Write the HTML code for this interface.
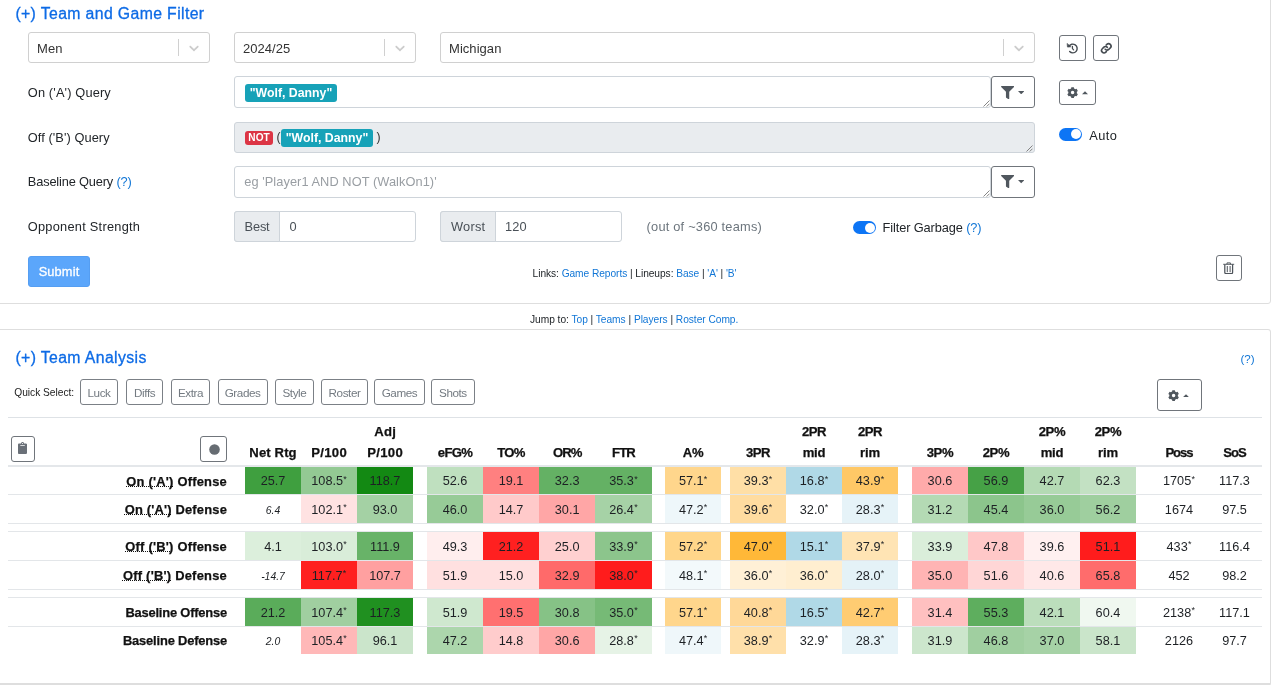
<!DOCTYPE html>
<html lang="en"><head><meta charset="utf-8"><title>Team Analysis</title>
<style>
*{box-sizing:border-box;margin:0;padding:0}
html,body{width:1272px;height:685px;overflow:hidden;background:#fff}
body{position:relative;font-family:"Liberation Sans",Arial,sans-serif;color:#212529;font-size:12.2px}
.abs{position:absolute}
.card{position:absolute;border:1px solid #dedede;border-radius:3px;background:#fff}
.t{position:absolute;white-space:nowrap;line-height:16px}
.h{position:absolute;white-space:nowrap;color:#0d6be6;font-size:15.8px;line-height:20px;-webkit-text-stroke:0.3px #0d6be6}
.sel{position:absolute;border:1px solid #d0d0d0;border-radius:3px;background:#fff;height:31px}
.sel .v{position:absolute;left:8px;top:7.6px;line-height:16px;color:#333;font-size:13px;letter-spacing:0.05px}
.sel .sep{position:absolute;top:6px;bottom:6px;width:1px;background:#d0d0d0;right:30px}
.sel svg{position:absolute;right:6.5px;top:7px}
.inp{position:absolute;border:1px solid #ced4da;border-radius:3px;background:#fff}
.btn{position:absolute;border:1px solid #70757b;border-radius:3px;background:#fff}
.btn svg{position:absolute}
.badge{position:absolute;border-radius:3px;color:#fff;font-weight:bold;white-space:nowrap;text-align:center}
.tog{position:absolute;width:23px;height:13px;border-radius:7px;background:#0d75f5}
.tog i{position:absolute;right:1.5px;top:1.5px;width:10px;height:10px;border-radius:5px;background:#fff}
a,.lk{color:#1176d6;text-decoration:none}
.qb{position:absolute;top:379px;height:26px;border:1px solid #7b8086;border-radius:3px;color:#737a81;font-size:11.7px;letter-spacing:-0.42px;line-height:24px;padding-top:0.6px;text-align:center;white-space:nowrap}
table{position:absolute;left:8px;top:417px;border-collapse:collapse;table-layout:fixed;width:1254px}
td,th{padding:0;text-align:center;vertical-align:middle;font-size:12.7px;overflow:visible;white-space:nowrap;color:#1d2024}
thead th{height:48.5px;border-top:1px solid #dee2e6;border-bottom:2px solid #e4e7ea;vertical-align:bottom;font-weight:bold;line-height:20.5px;padding-bottom:1.7px;color:#111;font-size:13.1px;letter-spacing:0.27px;-webkit-text-stroke:0.25px #111}
tbody tr.r td{height:28.8px;border-top:1px solid #e3e6e9;background-clip:padding-box;padding-top:1.6px}
tbody tr.l td{height:27.8px;padding-top:0.8px}
tbody tr.s td{height:8.2px;border-top:1px solid #e3e6e9}
tbody tr.r td.n{padding-top:1px}
tbody tr.l td.n{padding-top:0.2px}
td.n{text-align:right;font-weight:bold;padding-right:18px;color:#111;font-size:12.9px;-webkit-text-stroke:0.25px #111}
td.n u{text-decoration:underline dotted;text-underline-offset:0.4px;text-decoration-thickness:1px;text-decoration-skip-ink:none}
td i{font-size:10.4px}
sup{font-size:9px;line-height:1px;vertical-align:baseline;position:relative;top:-3.6px;margin-left:0.2px}
</style></head>
<body>
<div class="card" style="left:-5px;top:-10px;width:1275.5px;height:313.5px"></div>
<div class="card" style="left:-5px;top:329px;width:1275.5px;height:357px;border-bottom-width:3px"></div>
<div class="h" style="left:15.4px;top:3.8px;letter-spacing:0.373px">(+) Team and Game Filter</div>
<div class="sel" style="left:28px;top:32px;width:181.5px"><span class="v">Men</span><span class="sep"></span><svg width="16" height="16" viewBox="0 0 20 20"><path d="M4.516 7.548c0.436-0.446 1.043-0.481 1.576 0l3.908 3.747 3.908-3.747c0.533-0.481 1.141-0.446 1.574 0 0.436 0.445 0.408 1.197 0 1.615-0.406 0.418-4.695 4.502-4.695 4.502-0.217 0.223-0.502 0.335-0.787 0.335s-0.57-0.112-0.789-0.335c0 0-4.287-4.084-4.695-4.502s-0.436-1.17 0-1.615z" fill="#ccc"/></svg></div>
<div class="sel" style="left:234px;top:32px;width:181.5px"><span class="v">2024/25</span><span class="sep"></span><svg width="16" height="16" viewBox="0 0 20 20"><path d="M4.516 7.548c0.436-0.446 1.043-0.481 1.576 0l3.908 3.747 3.908-3.747c0.533-0.481 1.141-0.446 1.574 0 0.436 0.445 0.408 1.197 0 1.615-0.406 0.418-4.695 4.502-4.695 4.502-0.217 0.223-0.502 0.335-0.787 0.335s-0.57-0.112-0.789-0.335c0 0-4.287-4.084-4.695-4.502s-0.436-1.17 0-1.615z" fill="#ccc"/></svg></div>
<div class="sel" style="left:440px;top:32px;width:594.5px"><span class="v">Michigan</span><span class="sep"></span><svg width="16" height="16" viewBox="0 0 20 20"><path d="M4.516 7.548c0.436-0.446 1.043-0.481 1.576 0l3.908 3.747 3.908-3.747c0.533-0.481 1.141-0.446 1.574 0 0.436 0.445 0.408 1.197 0 1.615-0.406 0.418-4.695 4.502-4.695 4.502-0.217 0.223-0.502 0.335-0.787 0.335s-0.57-0.112-0.789-0.335c0 0-4.287-4.084-4.695-4.502s-0.436-1.17 0-1.615z" fill="#ccc"/></svg></div>
<div class="btn" style="left:1059px;top:35px;width:27px;height:26px"><svg style="left:6.2px;top:6.2px" width="12.5" height="12.5" viewBox="0 0 24 24" fill="none" stroke="#454b51" stroke-width="2.7" stroke-linecap="round" stroke-linejoin="round"><path d="M5.6 8.6A8.4 8.4 0 1 1 7.0 18.4"/><path d="M2.2 3.4L2.8 9.8L9.2 9.2Z" fill="#454b51" stroke-width="1.2"/><path d="M12.4 8.4v4.4l2.2 2.2" stroke-width="2.3"/></svg></div>
<div class="btn" style="left:1093px;top:35px;width:26px;height:26px"><svg style="left:6.2px;top:6.3px" width="12.6" height="12.6" viewBox="0 0 24 24" fill="none" stroke="#454b51" stroke-width="3.1" stroke-linecap="round" stroke-linejoin="round"><path d="M10 13.8a4.6 4.6 0 0 0 6.6.4l3-3a4.6 4.6 0 0 0-6.6-6.6l-1.2 1.2"/><path d="M14 10.2a4.6 4.6 0 0 0-6.600-.4l-3 3a4.6 4.6 0 0 0 6.600 6.600l1.200-1.200"/></svg></div>
<div class="t" style="left:27.8px;top:84.8px;font-size:12.8px;letter-spacing:0.15px;">On ('A') Query</div>
<div class="inp" style="left:234px;top:76px;width:757px;height:32.4px"></div>
<div class="badge" style="left:245px;top:84px;width:92px;height:18px;line-height:18px;font-size:12.3px;background:#17a2b8">"Wolf, Danny"</div>
<svg class="abs" style="left:982.5px;top:100px" width="7" height="7" viewBox="0 0 7 7" stroke="#777" stroke-width="0.9" fill="none"><path d="M0.5 6.5L6.5 0.5M3.7 6.500L6.500 3.700"/></svg>
<div class="btn" style="left:990.5px;top:76px;width:44px;height:32.4px"><svg style="left:9.5px;top:8.6px" width="13.2" height="13.2" viewBox="0 0 512 512"><path fill="#50575e" d="M487.976 0H24.028C2.71 0-8.047 25.866 7.058 40.971L192 225.941V432c0 7.831 3.821 15.17 10.237 19.662l80 55.98C298.02 518.69 320 507.493 320 487.98V225.941l184.947-184.97C520.021 25.896 509.338 0 487.976 0z"/></svg><svg style="left:26.2px;top:13.8px" width="6.4" height="3.4" viewBox="0 0 10 5"><path d="M0 0h10L5 5z" fill="#50575e"/></svg></div>
<div class="btn" style="left:1059px;top:80px;width:36.5px;height:25px"><svg style="left:6.8px;top:6.3px" width="11.2" height="11.2" viewBox="0 0 512 512" fill="#50575e"><path fill-rule="evenodd" d="M325.0 441.6 L313.5 501.3 L198.5 501.3 L187.0 441.6 L129.8 408.6 L72.3 428.5 L14.8 328.8 L60.8 289.0 L60.8 223.0 L14.8 183.2 L72.3 83.5 L129.8 103.4 L187.0 70.4 L198.5 10.7 L313.5 10.7 L325.0 70.4 L382.2 103.4 L439.7 83.5 L497.2 183.2 L451.2 223.0 L451.2 289.0 L497.2 328.8 L439.7 428.5 L382.2 408.6Z M336 256 A80 80 0 1 0 176 256 A80 80 0 1 0 336 256Z"/></svg><svg style="left:21.6px;top:10.3px" width="6" height="3.3" viewBox="0 0 10 5"><path d="M0 5h10L5 0z" fill="#50575e"/></svg></div>
<div class="t" style="left:27.8px;top:129.8px;font-size:12.8px;letter-spacing:0.076px;">Off ('B') Query</div>
<div class="inp" style="left:234px;top:122px;width:800.5px;height:31px;background:#e9ecef"></div>
<div class="badge" style="left:245px;top:131px;width:28px;height:14px;line-height:14px;font-size:10.1px;background:#dc3545">NOT</div>
<div class="t" style="left:276.5px;top:129px;color:#333">(</div>
<div class="badge" style="left:281px;top:128.5px;width:92px;height:18px;line-height:18px;font-size:12.3px;background:#17a2b8">"Wolf, Danny"</div>
<div class="t" style="left:376.5px;top:129px;color:#333">)</div>
<svg class="abs" style="left:1026px;top:144.5px" width="7" height="7" viewBox="0 0 7 7" stroke="#777" stroke-width="0.9" fill="none"><path d="M0.5 6.5L6.5 0.5M3.7 6.500L6.500 3.700"/></svg>
<div class="tog" style="left:1059.3px;top:127.8px"><i></i></div>
<div class="t" style="left:1089.3px;top:127.6px;font-size:12.8px;letter-spacing:0.392px;">Auto</div>
<div class="t" style="left:27.8px;top:174.4px;font-size:12.8px;letter-spacing:-0.156px;">Baseline Query <span class="lk">(?)</span></div>
<div class="inp" style="left:234px;top:165.6px;width:757px;height:32.4px"></div>
<div class="t" style="left:244.3px;top:174.4px;font-size:12.8px;letter-spacing:0.062px;color:#999ea3;">eg 'Player1 AND NOT (WalkOn1)'</div>
<svg class="abs" style="left:982.5px;top:189.6px" width="7" height="7" viewBox="0 0 7 7" stroke="#777" stroke-width="0.9" fill="none"><path d="M0.5 6.5L6.5 0.5M3.7 6.500L6.500 3.700"/></svg>
<div class="btn" style="left:990.5px;top:165.6px;width:44px;height:32.4px"><svg style="left:9.5px;top:8.6px" width="13.2" height="13.2" viewBox="0 0 512 512"><path fill="#50575e" d="M487.976 0H24.028C2.71 0-8.047 25.866 7.058 40.971L192 225.941V432c0 7.831 3.821 15.17 10.237 19.662l80 55.98C298.02 518.69 320 507.493 320 487.98V225.941l184.947-184.97C520.021 25.896 509.338 0 487.976 0z"/></svg><svg style="left:26.2px;top:13.8px" width="6.4" height="3.4" viewBox="0 0 10 5"><path d="M0 0h10L5 5z" fill="#50575e"/></svg></div>
<div class="t" style="left:27.8px;top:219.4px;font-size:12.8px;letter-spacing:0.249px;">Opponent Strength</div>
<div class="inp" style="left:234px;top:211px;width:181.5px;height:31px"></div>
<div class="inp" style="left:234px;top:211px;width:46px;height:31px;background:#e9ecef;border-radius:3px 0 0 3px"></div>
<div class="t" style="left:244.6px;top:219.4px;font-size:12.8px;letter-spacing:-0.178px;color:#495057;">Best</div>
<div class="t" style="left:289.5px;top:219.4px;font-size:12.8px;letter-spacing:0.281px;color:#495057;">0</div>
<div class="inp" style="left:440px;top:211px;width:181.5px;height:31px"></div>
<div class="inp" style="left:440px;top:211px;width:56px;height:31px;background:#e9ecef;border-radius:3px 0 0 3px"></div>
<div class="t" style="left:451px;top:219.4px;font-size:12.8px;letter-spacing:0.242px;color:#495057;">Worst</div>
<div class="t" style="left:505px;top:219.4px;font-size:12.8px;letter-spacing:0.181px;color:#495057;">120</div>
<div class="t" style="left:646.6px;top:219.4px;font-size:12.8px;letter-spacing:0.213px;color:#6c757d;">(out of ~360 teams)</div>
<div class="tog" style="left:853px;top:221px"><i></i></div>
<div class="t" style="left:882.6px;top:219.8px;font-size:12.8px;letter-spacing:-0.117px;">Filter Garbage <span class="lk">(?)</span></div>
<div class="abs" style="left:28px;top:256px;width:62px;height:31px;border-radius:3px;background:#5ba6fb;border:1px solid #559ef2;color:#fff;text-align:center;line-height:29.8px;font-size:12.8px;letter-spacing:0.15px;-webkit-text-stroke:0.3px #fff">Submit</div>
<div class="t" style="left:532.6px;top:266.1px;font-size:10.2px;letter-spacing:-0.057px;">Links: <a>Game Reports</a> | Lineups: <a>Base</a> | <a>'A'</a> | <a>'B'</a></div>
<div class="btn" style="left:1216px;top:255px;width:26px;height:26px"><svg style="left:6.2px;top:5.5px" width="11.4" height="12.4" viewBox="0 0 22.800 24.800" fill="none" stroke="#4d535a" stroke-width="2.5" stroke-linejoin="round" stroke-linecap="round"><path d="M1.2 4.6h20.400M8 4V1.800h6.800V4" stroke-width="1.9"/><path d="M3.6 5.600V21.200a2 2 0 0 0 2 2h11.600a2 2 0 0 0 2-2V5.600"/><path d="M8.600 8.800v10.800M14.200 8.800v10.800" stroke-width="2"/></svg></div>
<div class="t" style="left:530px;top:312px;font-size:10.2px;letter-spacing:-0.032px;">Jump to: <a>Top</a> | <a>Teams</a> | <a>Players</a> | <a>Roster Comp.</a></div>
<div class="h" style="left:15.4px;top:347.7px;letter-spacing:0.38px">(+) Team Analysis</div>
<div class="t lk" style="left:1240.5px;top:351px;font-size:11.6px">(?)</div>
<div class="t" style="left:14.3px;top:384.6px;font-size:10.2px;letter-spacing:-0.015px;color:#222;">Quick Select:</div>
<div class="qb" style="left:80.2px;width:37.6px">Luck</div>
<div class="qb" style="left:125.9px;width:37.5px">Diffs</div>
<div class="qb" style="left:171px;width:39.1px">Extra</div>
<div class="qb" style="left:217.5px;width:50.2px">Grades</div>
<div class="qb" style="left:275.2px;width:38.5px">Style</div>
<div class="qb" style="left:321.2px;width:46.7px">Roster</div>
<div class="qb" style="left:374.2px;width:50.6px">Games</div>
<div class="qb" style="left:431px;width:43.8px">Shots</div>
<div class="btn" style="left:1157px;top:379px;width:44.5px;height:32px"><svg style="left:10.2px;top:10.2px" width="11.2" height="11.2" viewBox="0 0 512 512" fill="#50575e"><path fill-rule="evenodd" d="M325.0 441.6 L313.5 501.3 L198.5 501.3 L187.0 441.6 L129.8 408.6 L72.3 428.5 L14.8 328.8 L60.8 289.0 L60.8 223.0 L14.8 183.2 L72.3 83.5 L129.8 103.4 L187.0 70.4 L198.5 10.7 L313.5 10.7 L325.0 70.4 L382.2 103.4 L439.7 83.5 L497.2 183.2 L451.2 223.0 L451.2 289.0 L497.2 328.8 L439.7 428.5 L382.2 408.6Z M336 256 A80 80 0 1 0 176 256 A80 80 0 1 0 336 256Z"/></svg><svg style="left:25.0px;top:14.2px" width="6" height="3.3" viewBox="0 0 10 5"><path d="M0 5h10L5 0z" fill="#50575e"/></svg></div>
<table><colgroup><col style="width:237px"><col style="width:56px"><col style="width:56px"><col style="width:56px"><col style="width:14px"><col style="width:56px"><col style="width:56px"><col style="width:56.3px"><col style="width:56.3px"><col style="width:13.4px"><col style="width:56.4px"><col style="width:8.6px"><col style="width:56px"><col style="width:56px"><col style="width:56px"><col style="width:14px"><col style="width:56px"><col style="width:56px"><col style="width:56px"><col style="width:56px"><col style="width:15px"><col style="width:56px"><col style="width:55px"></colgroup><thead><tr><th style="position:relative"><div class="btn" style="left:2.5px;top:18px;width:24.5px;height:26px"><svg style="left:6.3px;top:5.4px" width="9.1" height="12" viewBox="0 0 384 512" preserveAspectRatio="none"><path fill="#6a7078" fill-rule="evenodd" d="M384 112v352c0 26.510-21.490 48-48 48H48c-26.510 0-48-21.490-48-48V112c0-26.510 21.490-48 48-48h80c0-35.290 28.710-64 64-64s64 28.710 64 64h80c26.510 0 48 21.490 48 48zM192 40c-13.255 0-24 10.745-24 24s10.745 24 24 24 24-10.745 24-24-10.745-24-24-24m96 114v-20a6 6 0 0 0-6-6H102a6 6 0 0 0-6 6v20a6 6 0 0 0 6 6h180a6 6 0 0 0 6-6z"/></svg></div><div class="btn" style="left:192px;top:18px;width:27px;height:26px"><svg style="left:7.5px;top:6.5px" width="11" height="11" viewBox="0 0 10 10"><circle cx="5" cy="5" r="4.8" fill="#666c72"/></svg></div></th><th><span style="letter-spacing:0.118px;margin-right:-0.118px">Net Rtg</span></th><th><span style="letter-spacing:0.333px;margin-right:-0.333px">P/100</span></th><th><span style="letter-spacing:0.299px;margin-right:-0.299px">Adj</span><br><span style="letter-spacing:0.333px;margin-right:-0.333px">P/100</span></th><th></th><th><span style="letter-spacing:-0.656px;margin-right:--0.656px">eFG%</span></th><th><span style="letter-spacing:-0.734px;margin-right:--0.734px">TO%</span></th><th><span style="letter-spacing:-0.966px;margin-right:--0.966px">OR%</span></th><th><span style="letter-spacing:-0.922px;margin-right:--0.922px">FTR</span></th><th></th><th><span style="letter-spacing:-0.204px;margin-right:--0.204px">A%</span></th><th></th><th><span style="letter-spacing:-0.461px;margin-right:--0.461px">3PR</span></th><th><span style="letter-spacing:-0.461px;margin-right:--0.461px">2PR</span><br><span style="letter-spacing:-0.297px;margin-right:--0.297px">mid</span></th><th><span style="letter-spacing:-0.461px;margin-right:--0.461px">2PR</span><br><span style="letter-spacing:-0.228px;margin-right:--0.228px">rim</span></th><th></th><th><span style="letter-spacing:-0.424px;margin-right:--0.424px">3P%</span></th><th><span style="letter-spacing:-0.424px;margin-right:--0.424px">2P%</span></th><th><span style="letter-spacing:-0.424px;margin-right:--0.424px">2P%</span><br><span style="letter-spacing:-0.297px;margin-right:--0.297px">mid</span></th><th><span style="letter-spacing:-0.424px;margin-right:--0.424px">2P%</span><br><span style="letter-spacing:-0.228px;margin-right:--0.228px">rim</span></th><th></th><th><span style="letter-spacing:-1.053px;margin-right:--1.053px">Poss</span></th><th><span style="letter-spacing:-1.026px;margin-right:--1.026px">SoS</span></th></tr></thead><tbody><tr class="r"><td class="n" style="letter-spacing:0.222px"><u>On ('A')</u> Offense</td><td style="background-color:#3f9f3f">25.7</td><td style="background-color:#93c993">108.5<sup>*</sup></td><td style="background-color:#138913">118.7</td><td></td><td style="background-color:#bfe0bf">52.6</td><td style="background-color:#ff8080">19.1</td><td style="background-color:#64b164">32.3</td><td style="background-color:#64b164">35.3<sup>*</sup></td><td></td><td style="background-color:#ffd68c">57.1<sup>*</sup></td><td></td><td style="background-color:#ffdfa6">39.3<sup>*</sup></td><td style="background-color:#b0d9e7">16.8<sup>*</sup></td><td style="background-color:#ffc866">43.9<sup>*</sup></td><td></td><td style="background-color:#ffaaaa">30.6</td><td style="background-color:#46a146">56.9</td><td style="background-color:#b4dab4">42.7</td><td style="background-color:#c3e1c3">62.3</td><td></td><td>1705<sup>*</sup></td><td>117.3</td></tr><tr class="r"><td class="n" style="letter-spacing:0.193px"><u>On ('A')</u> Defense</td><td><i>6.4</i></td><td style="background-color:#ffe2e2">102.1<sup>*</sup></td><td style="background-color:#a4d1a4">93.0</td><td></td><td style="background-color:#97cb97">46.0</td><td style="background-color:#ffcaca">14.7</td><td style="background-color:#ffa6a6">30.1</td><td style="background-color:#a6d2a6">26.4<sup>*</sup></td><td></td><td style="background-color:#eef7fa">47.2<sup>*</sup></td><td></td><td style="background-color:#ffdca0">39.6<sup>*</sup></td><td>32.0<sup>*</sup></td><td style="background-color:#e6f3f8">28.3<sup>*</sup></td><td></td><td style="background-color:#b4dab4">31.2</td><td style="background-color:#8cc58c">45.4</td><td style="background-color:#97cb97">36.0</td><td style="background-color:#9fcf9f">56.2</td><td></td><td>1674</td><td>97.5</td></tr><tr class="s"><td colspan="23"></td></tr><tr class="r"><td class="n" style="letter-spacing:0.226px"><u>Off ('B')</u> Offense</td><td style="background-color:#dcefdc">4.1</td><td style="background-color:#d9edd9">103.0<sup>*</sup></td><td style="background-color:#68b368">111.9</td><td></td><td style="background-color:#ffeeee">49.3</td><td style="background-color:#ff2020">21.2</td><td style="background-color:#ffd0d0">25.0</td><td style="background-color:#8cc58c">33.9<sup>*</sup></td><td></td><td style="background-color:#ffd68a">57.2<sup>*</sup></td><td></td><td style="background-color:#ffb838">47.0<sup>*</sup></td><td style="background-color:#b0d9e7">15.1<sup>*</sup></td><td style="background-color:#ffe4b4">37.9<sup>*</sup></td><td></td><td style="background-color:#daeeda">33.9</td><td style="background-color:#ffc8c8">47.8</td><td style="background-color:#fff0f0">39.6</td><td style="background-color:#ff1c1c">51.1</td><td></td><td>433<sup>*</sup></td><td>116.4</td></tr><tr class="r"><td class="n" style="letter-spacing:0.24px"><u>Off ('B')</u> Defense</td><td><i>-14.7</i></td><td style="background-color:#ff2020">117.7<sup>*</sup></td><td style="background-color:#ffa0a0">107.7</td><td></td><td style="background-color:#ffe0e0">51.9</td><td style="background-color:#ffe0e0">15.0</td><td style="background-color:#ff6a6a">32.9</td><td style="background-color:#ff1c1c">38.0<sup>*</sup></td><td></td><td style="background-color:#f3f9fb">48.1<sup>*</sup></td><td></td><td style="background-color:#fff0d6">36.0<sup>*</sup></td><td style="background-color:#ffeed0">36.0<sup>*</sup></td><td style="background-color:#e4f2f7">28.0<sup>*</sup></td><td></td><td style="background-color:#ffb4b4">35.0</td><td style="background-color:#ffd6d6">51.6</td><td style="background-color:#ffe8e8">40.6</td><td style="background-color:#ff6c6c">65.8</td><td></td><td>452</td><td>98.2</td></tr><tr class="s"><td colspan="23"></td></tr><tr class="r"><td class="n" style="letter-spacing:-0.186px">Baseline Offense</td><td style="background-color:#5aac5a">21.2</td><td style="background-color:#a0cfa0">107.4<sup>*</sup></td><td style="background-color:#209020">117.3</td><td></td><td style="background-color:#cfe8cf">51.9</td><td style="background-color:#ff7070">19.5</td><td style="background-color:#86c286">30.8</td><td style="background-color:#76ba76">35.0<sup>*</sup></td><td></td><td style="background-color:#ffd68c">57.1<sup>*</sup></td><td></td><td style="background-color:#ffd898">40.8<sup>*</sup></td><td style="background-color:#b0d9e7">16.5<sup>*</sup></td><td style="background-color:#ffcc72">42.7<sup>*</sup></td><td></td><td style="background-color:#ffc0c0">31.4</td><td style="background-color:#5eae5e">55.3</td><td style="background-color:#bcdebc">42.1</td><td style="background-color:#f0f8f0">60.4</td><td></td><td>2138<sup>*</sup></td><td>117.1</td></tr><tr class="r l"><td class="n" style="letter-spacing:-0.171px">Baseline Defense</td><td><i>2.0</i></td><td style="background-color:#ffb8b8">105.4<sup>*</sup></td><td style="background-color:#cbe5cb">96.1</td><td></td><td style="background-color:#acd6ac">47.2</td><td style="background-color:#ffcccc">14.8</td><td style="background-color:#ffa6a6">30.6</td><td style="background-color:#e6f3e6">28.8<sup>*</sup></td><td></td><td style="background-color:#eff7fa">47.4<sup>*</sup></td><td></td><td style="background-color:#ffe0aa">38.9<sup>*</sup></td><td>32.9<sup>*</sup></td><td style="background-color:#e6f3f8">28.3<sup>*</sup></td><td></td><td style="background-color:#cce6cc">31.9</td><td style="background-color:#a0cfa0">46.8</td><td style="background-color:#a6d2a6">37.0</td><td style="background-color:#cae5ca">58.1</td><td></td><td>2126</td><td>97.7</td></tr></tbody></table>
</body></html>
